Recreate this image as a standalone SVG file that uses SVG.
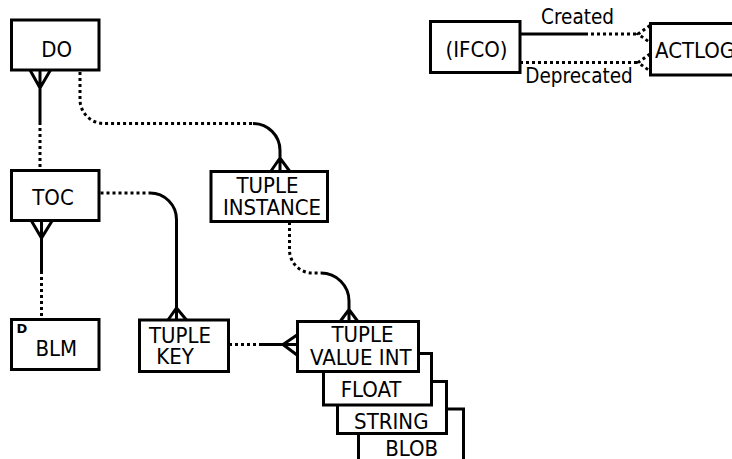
<svg xmlns="http://www.w3.org/2000/svg" width="732" height="459" viewBox="0 0 732 459">
<style>
.box{fill:#fff;stroke:#000;stroke-width:3}
.t{font-family:"DejaVu Sans Condensed","DejaVu Sans",Verdana,sans-serif;font-stretch:condensed;font-size:22px;fill:#000;text-anchor:middle}
.lbl{font-family:"DejaVu Sans Condensed","DejaVu Sans",Verdana,sans-serif;font-stretch:condensed;font-size:20.5px;fill:#000;text-anchor:middle}
.s{fill:none;stroke:#000;stroke-width:3}
.d{fill:none;stroke:#000;stroke-width:3;stroke-dasharray:3 3}
</style>
<rect width="732" height="459" fill="#fff"/>
<g id="connectors">
<path class="s" d="M40,70 V122 M30,70 L40,88 L50.5,70"/>
<path class="d" d="M40,122 V169"/>
<path class="s" d="M41.5,221 V271 M31.5,221 L41.5,238 L52,221"/>
<path class="d" d="M41.5,271 V318"/>
<path class="d" d="M80,72 V99 A24,24 0 0 0 104,123.5 H253"/>
<path class="s" d="M253,123.5 A27,27 0 0 1 280,150.5 V171 M271,171 L280,158 L289.5,171"/>
<path class="d" d="M100.5,193 H150"/>
<path class="s" d="M150,193 A26.5,26.5 0 0 1 176.5,219.5 V320 M168,320 L176.5,308 L186.5,320"/>
<path class="d" d="M229,344.5 H262"/>
<path class="s" d="M262,344.5 H297 M297,335 L283,344.5 L297,355"/>
<path class="d" d="M289.5,222 V250 A23,23 0 0 0 312.5,273 H321"/>
<path class="s" d="M321,273 A28,28 0 0 1 349,301 V321 M340.5,321 L349,309.5 L357.5,321"/>
<path class="s" d="M520,34 H585"/>
<path class="d" d="M585,34 H638 M650,25.5 L638,34 L650,42.5"/>
<path class="d" d="M520,62.5 H638 M650,54 L638,62.5 L650,71"/>
<text class="lbl" x="577.5" y="24">Created</text>
<text class="lbl" x="579" y="83">Deprecated</text>
</g>
<g id="DO"><rect class="box" x="11.5" y="20" width="87.5" height="50"/><text class="t" x="56.7" y="56.5">DO</text></g>
<g id="TOC"><rect class="box" x="11.5" y="170.5" width="87.5" height="50"/><text class="t" x="53" y="205">TOC</text></g>
<g id="BLM"><rect class="box" x="11.5" y="319.5" width="87.5" height="50"/><text x="16.5" y="333" style="font-family:'DejaVu Sans',Verdana,sans-serif;font-size:13px;font-weight:bold">D</text><text class="t" x="56.3" y="356">BLM</text></g>
<g id="TUPLE_INSTANCE"><rect class="box" x="211" y="171.5" width="116.5" height="50"/><text class="t" x="267.5" y="193.3">TUPLE</text><text class="t" x="272" y="215.3">INSTANCE</text></g>
<g id="TUPLE_KEY"><rect class="box" x="139.5" y="320" width="89" height="51.5"/><text class="t" x="180" y="343.3">TUPLE</text><text class="t" x="175" y="363.5">KEY</text></g>
<g id="BLOB"><rect class="box" x="358.5" y="409" width="105" height="70"/><text class="t" x="411.7" y="455.7">BLOB</text></g>
<g id="STRING"><rect class="box" x="337.5" y="381.5" width="109" height="52"/><text class="t" x="391.3" y="428.5">STRING</text></g>
<g id="FLOAT"><rect class="box" x="323.5" y="353.5" width="108" height="51.5"/><text class="t" x="371" y="397.3">FLOAT</text></g>
<g id="TUPLE_VALUE_INT"><rect class="box" x="297.5" y="321.5" width="121" height="50"/><text class="t" x="362.5" y="341.7">TUPLE</text><text class="t" x="360.8" y="365">VALUE INT</text></g>
<g id="IFCO"><rect class="box" x="430.5" y="21.5" width="89.5" height="51"/><text class="t" x="476.5" y="57">(IFCO)</text></g>
<g id="ACTLOG"><rect class="box" x="650.5" y="23.5" width="90" height="51.5"/><text class="t" x="655" y="58.3" style="text-anchor:start">ACTLOG</text></g>
</svg>
